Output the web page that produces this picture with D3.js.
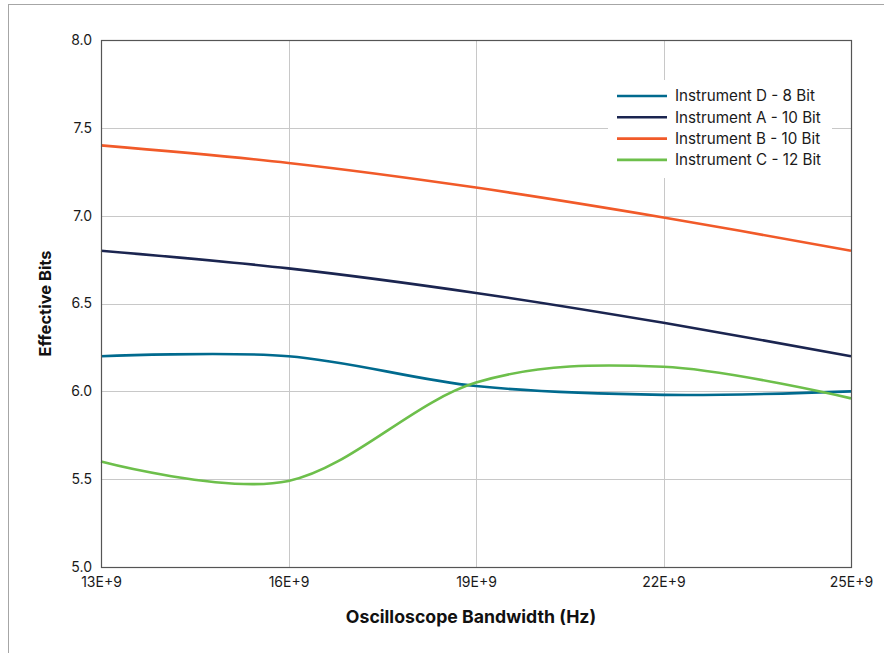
<!DOCTYPE html>
<html>
<head>
<meta charset="utf-8">
<script src="https://cdn.jsdelivr.net/npm/d3@7"></script>
<style>
  html, body { margin: 0; padding: 0; background: #fff; }
  svg { display: block; font-family: Inter, Roboto, "Noto Sans", sans-serif; }
</style>
</head>
<body>
<svg id="chart" width="884" height="653"></svg>
<script>
// Bandwidth samples (Hz) and effective bits per instrument
const bandwidth = [13e9, 16e9, 19e9, 22e9, 25e9];
const instrumentD = [6.20, 6.20, 6.03, 5.98, 6.00];
const instrumentA = [6.80, 6.70, 6.56, 6.39, 6.20];
const instrumentB = [7.40, 7.30, 7.16, 6.99, 6.80];
const instrumentC = [5.60, 5.49, 6.05, 6.14, 5.96];

const seriesNames = ["Instrument D - 8 Bit", "Instrument A - 10 Bit", "Instrument B - 10 Bit", "Instrument C - 12 Bit"];
const seriesValues = [instrumentD, instrumentA, instrumentB, instrumentC];
const seriesColors = ["#006a8e", "#1b2550", "#f15a29", "#6dbf4b"];

const xTicks = [13e9, 16e9, 19e9, 22e9, 25e9];
const xTickLabels = ["13E+9", "16E+9", "19E+9", "22E+9", "25E+9"];
const yTicks = [5.0, 5.5, 6.0, 6.5, 7.0, 7.5, 8.0];

const svg = d3.select("#chart");
const W = 884, H = 653;
const m = { left: 101, right: 851, top: 40, bottom: 567 };

// outer frame
svg.append("rect")
  .attr("x", 8.5).attr("y", 4.5)
  .attr("width", W + 10).attr("height", H + 10)
  .attr("fill", "none").attr("stroke", "#a6a6a6").attr("stroke-width", 1);

const x = d3.scaleLinear().domain([13e9, 25e9]).range([m.left, m.right]);
const y = d3.scaleLinear().domain([5, 8]).range([m.bottom, m.top]);

// gridlines
const grid = svg.append("g");
grid.selectAll("line.h").data(yTicks).join("line")
  .attr("x1", m.left).attr("x2", m.right)
  .attr("y1", d => Math.round(y(d)) + 0.5).attr("y2", d => Math.round(y(d)) + 0.5)
  .attr("stroke", "#c8c8c8").attr("stroke-width", 1);
grid.selectAll("line.v").data(xTicks).join("line")
  .attr("y1", m.top).attr("y2", m.bottom)
  .attr("x1", d => Math.round(x(d)) + 0.5).attr("x2", d => Math.round(x(d)) + 0.5)
  .attr("stroke", "#c8c8c8").attr("stroke-width", 1);

// axes (labels only)
const yAxis = svg.append("g")
  .attr("transform", `translate(${m.left},0)`)
  .call(d3.axisLeft(y).tickValues(yTicks).tickFormat(d3.format(".1f")).tickSize(0).tickPadding(9));
yAxis.select(".domain").remove();
yAxis.selectAll("text").attr("font-size", 14).attr("fill", "#1a1a1a").attr("font-family", "Inter, Roboto, sans-serif");

const xAxis = svg.append("g")
  .attr("transform", `translate(0,${m.bottom})`)
  .call(d3.axisBottom(x).tickValues(xTicks).tickFormat((d, i) => xTickLabels[i]).tickSize(0).tickPadding(10));
xAxis.select(".domain").remove();
xAxis.selectAll("text").attr("font-size", 14).attr("fill", "#1a1a1a").attr("font-family", "Inter, Roboto, sans-serif");

// series lines
const line = d3.line()
  .x((d, i) => x(bandwidth[i]))
  .y(d => y(d))
  .curve(d3.curveCatmullRom.alpha(0));

svg.append("g").selectAll("path").data(seriesValues).join("path")
  .attr("d", d => line(d))
  .attr("fill", "none")
  .attr("stroke", (d, i) => seriesColors[i])
  .attr("stroke-width", 2.6);

// plot frame
svg.append("rect")
  .attr("x", m.left + 0.5).attr("y", m.top + 0.5)
  .attr("width", m.right - m.left).attr("height", m.bottom - m.top)
  .attr("fill", "none").attr("stroke", "#555").attr("stroke-width", 1.2);

// legend
const legend = svg.append("g");
legend.append("rect")
  .attr("x", 608).attr("y", 80).attr("width", 224).attr("height", 98)
  .attr("fill", "#fff");
const rows = legend.selectAll("g").data(seriesNames).join("g")
  .attr("transform", (d, i) => `translate(617,${96 + i * 21.3})`);
rows.append("line")
  .attr("x1", 0).attr("x2", 50).attr("y1", 0).attr("y2", 0)
  .attr("stroke", (d, i) => seriesColors[i]).attr("stroke-width", 2.6);
rows.append("text")
  .attr("x", 58).attr("y", 0).attr("dy", "0.35em")
  .attr("font-size", 15.2).attr("fill", "#1a1a1a")
  .text(d => d);

// axis titles
svg.append("text")
  .attr("x", (m.left + m.right) / 2 - 5).attr("y", 623)
  .attr("text-anchor", "middle")
  .attr("font-size", 17.7).attr("font-weight", "bold").attr("fill", "#111")
  .text("Oscilloscope Bandwidth (Hz)");
svg.append("text")
  .attr("transform", `translate(51,${(m.top + m.bottom) / 2}) rotate(-90)`)
  .attr("text-anchor", "middle")
  .attr("font-size", 16.5).attr("font-weight", "bold").attr("fill", "#111")
  .text("Effective Bits");
</script>
</body>
</html>
